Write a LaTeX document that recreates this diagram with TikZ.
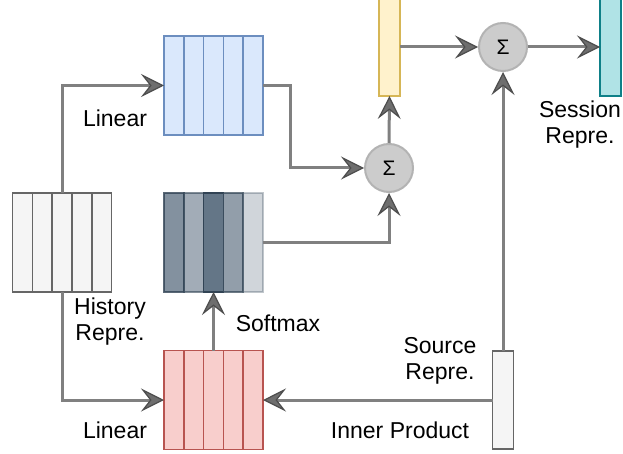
\documentclass[tikz,border=0pt]{standalone}
\usepackage{fontspec}
\setmainfont{Liberation Sans}
\usetikzlibrary{arrows.meta,calc}
\definecolor{bluefill}{HTML}{DAE8FC}\definecolor{bluedraw}{HTML}{6C8EBF}
\definecolor{redfill}{HTML}{F8CECC}\definecolor{reddraw}{HTML}{B85450}
\definecolor{yelfill}{HTML}{FFF2CC}\definecolor{yeldraw}{HTML}{D6B656}
\definecolor{tealfill}{HTML}{B0E3E6}\definecolor{tealdraw}{HTML}{0E8088}
\definecolor{grayfill}{HTML}{F5F5F5}\definecolor{graydraw}{HTML}{666666}
\definecolor{slate}{HTML}{647687}\definecolor{slatedraw}{HTML}{314354}
\definecolor{edgec}{HTML}{808080}\definecolor{tipc}{HTML}{4D4D4D}\definecolor{tipfill}{HTML}{6E6E6E}
\definecolor{sigfill}{HTML}{CCCCCC}\definecolor{sigdraw}{HTML}{B3B3B3}
\tikzset{
  vecbox/.style={draw, line width=1.6pt, minimum width=99pt, minimum height=99pt, inner sep=0pt, outer sep=0pt},
  barbox/.style={draw, line width=1.6pt, minimum width=21pt, inner sep=0pt, outer sep=0pt},
  sigma/.style={circle, draw=sigdraw, fill=sigfill, line width=2pt, minimum size=48pt, inner sep=0pt, font=\fontsize{21}{21}\selectfont},
  conn/.style={draw=edgec, line width=3pt, -{Stealth[length=23pt,width=23pt,inset=9pt,color=tipc,fill=tipfill,line width=1.2pt]}},
  lbl/.style={font=\fontsize{23}{26}\selectfont, align=center, inner sep=0pt},
}
\begin{document}
\begin{tikzpicture}[x=1pt,y=-1pt]
\clip (0,0) rectangle (623,454);
\fill[white] (0,0) rectangle (623,454);
% boxes
\node[vecbox, draw=graydraw, fill=grayfill] (hist) at (62,242.5) {};
\foreach \k in {1,...,4}{\draw[line width=1.6pt,graydraw] ($(hist.south west)!\k/5!(hist.south east)$) -- ($(hist.north west)!\k/5!(hist.north east)$);}
\node[vecbox, draw=bluedraw, fill=bluefill] (blue) at (213.5,85.5) {};
\foreach \k in {1,...,4}{\draw[line width=1.6pt,bluedraw] ($(blue.south west)!\k/5!(blue.south east)$) -- ($(blue.north west)!\k/5!(blue.north east)$);}
\node[vecbox, draw=reddraw, fill=redfill] (red) at (213.5,400) {};
\foreach \k in {1,...,4}{\draw[line width=1.6pt,reddraw] ($(red.south west)!\k/5!(red.south east)$) -- ($(red.north west)!\k/5!(red.north east)$);}
% softmax box with shaded columns
\node[minimum width=99pt, minimum height=99pt, inner sep=0pt, outer sep=0pt] (soft) at (213.5,242.5) {};
\foreach \k/\op in {0/0.8,1/0.6,2/1.0,3/0.7,4/0.3}{
  \draw[line width=1.6pt, draw=slatedraw, fill=slate, fill opacity=\op, draw opacity=\op]
    ($(soft.north west)!\k/5!(soft.north east)$) rectangle ($(soft.south west)!{(\k+1)/5}!(soft.south east)$);}
% bars
\node[barbox, draw=yeldraw, fill=yelfill, minimum height=110pt] (yel) at (389.5,41) {};
\node[barbox, draw=tealdraw, fill=tealfill, minimum height=110pt] (teal) at (610.5,41) {};
\node[barbox, draw=graydraw, fill=grayfill, minimum height=98pt] (src) at (503,400) {};
% sums
\node[sigma] (sig1) at (389,168) {Σ};
\node[sigma] (sig2) at (503,47) {Σ};
% connectors
\draw[conn] (hist.north) |- (blue.west);
\draw[conn] (blue.east) -- ++(27.5,0) |- (sig1.west);
\draw[conn] (soft.east) -| (sig1.south);
\draw[conn] (sig1.north) -- (yel.south);
\draw[conn] (sig2.west -| yel.east) -- (sig2.west);
\draw[conn] (sig2.east) -- (sig2.east -| teal.west);
\draw[conn] (src.north) -- (sig2.south);
\draw[conn] (src.west) -- (red.east);
\draw[conn] (hist.south) |- (red.west);
\draw[conn] (red.north) -- (soft.south);
% labels
\node[lbl] (l1) at (115,118) {Linear};
\node[lbl] (l2) at (110,322) {History\\Repre.};
\node[lbl] (l3) at (278,323) {Softmax};
\node[lbl] (l4) at (115,430) {Linear};
\node[lbl] (l5) at (440,361) {Source\\Repre.};
\node[lbl] (l6) at (400,430) {Inner Product};
\node[lbl] (l7) at (580,125) {Session\\Repre.};
\end{tikzpicture}
\end{document}
